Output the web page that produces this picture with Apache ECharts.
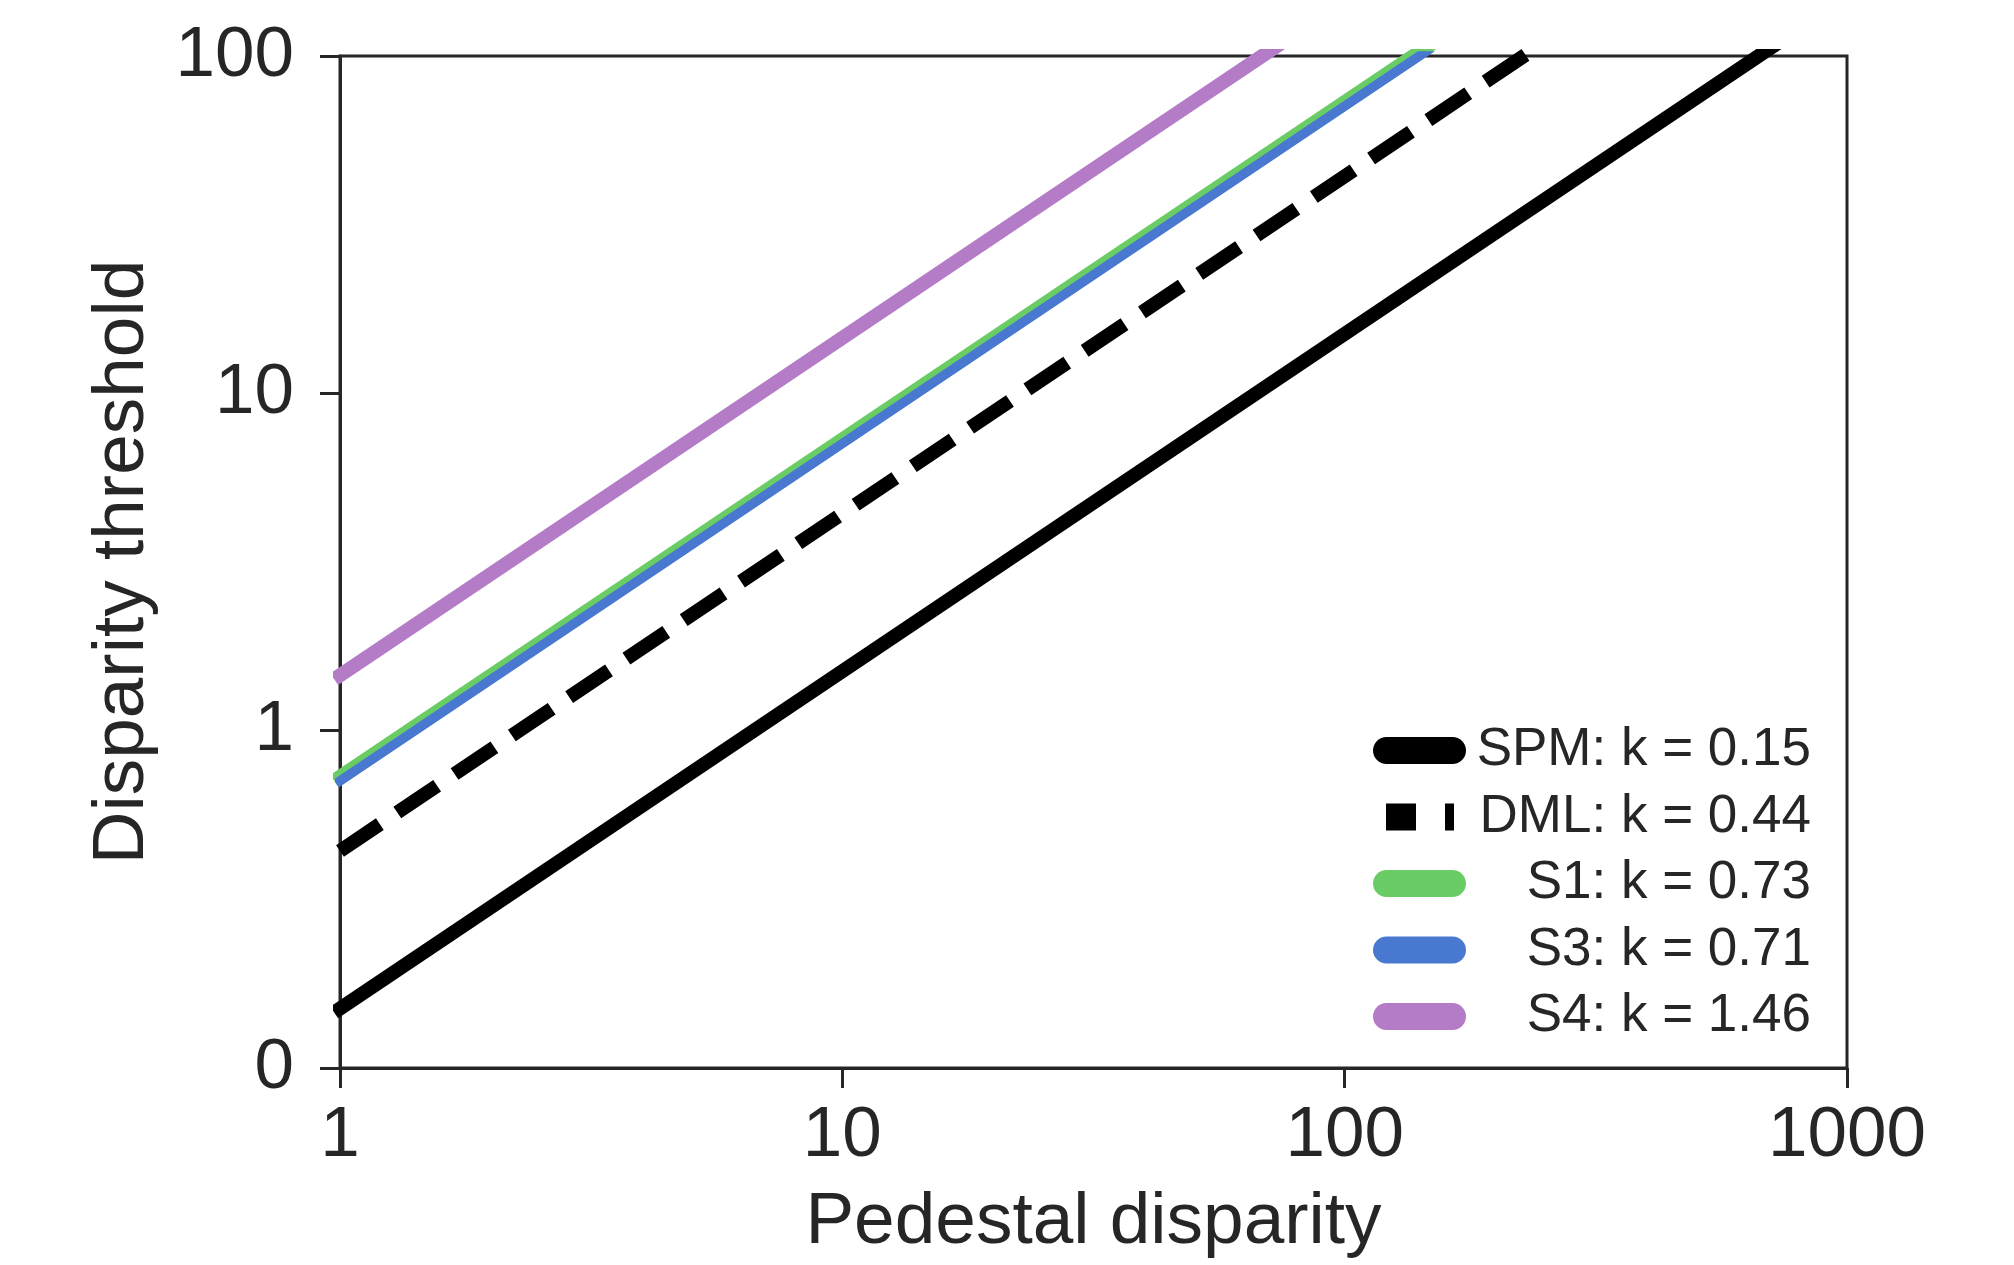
<!DOCTYPE html>
<html>
<head>
<meta charset="utf-8">
<script src="https://cdn.jsdelivr.net/npm/echarts@6/dist/echarts.min.js"></script>
<style>
  html, body { margin: 0; padding: 0; background: #fff; }
  #chart { width: 2014px; height: 1265px; }
</style>
</head>
<body>
<div id="chart"></div>
<script>
// ejes log-log: umbral de disparidad = k * disparidad pedestal
const pedestal = [1, 1000];
const spm = [0.15, 150];
const dml = [0.44, 440];
const s1 = [0.73, 730];
const s3 = [0.71, 710];
const s4 = [1.46, 1460];

const nombres = ['SPM: k = 0.15', 'DML: k = 0.44', 'S1: k = 0.73', 'S3: k = 0.71', 'S4: k = 1.46'];
const xTicks = [1, 10, 100, 1000];
const xTickLabels = ['1', '10', '100', '1000'];
const yTicks = [0.1, 1, 10, 100];
const yTickLabels = ['0', '1', '10', '100'];

const TINTA = '#262626';
const FUENTE = 'Liberation Sans';
const NEGRO = '#000000', VERDE = '#6acc64', AZUL = '#4878d0', MORADO = '#b47cc7';

// iconos de leyenda: 93 x 27
const PILDORA = 'path://M13.5,0H79.5A13.5,13.5,0,0,1,79.5,27H13.5A13.5,13.5,0,0,1,13.5,0Z';
const RAYAS = 'path://M0,0M13,0H43V27H13ZM72,0H81V27H72ZM93,27';

function puntos(ys) {
  return pedestal.map((x, i) => [x, ys[i]]);
}

// etiqueta del tick más cercano en escala log
function etiqueta(ticks, textos) {
  return function (v) {
    let mejor = 0;
    ticks.forEach((t, i) => {
      if (Math.abs(Math.log10(t) - Math.log10(v)) < Math.abs(Math.log10(ticks[mejor]) - Math.log10(v))) mejor = i;
    });
    return textos[mejor];
  };
}

function linea(nombre, ys, color, discontinua, grosor) {
  return {
    type: 'line', name: nombre, data: puntos(ys),
    showSymbol: false, symbol: 'none', silent: true, animation: false,
    itemStyle: { color: color },
    lineStyle: { color: color, width: grosor || 14,
                 type: discontinua ? [48, 21] : 'solid',
                 cap: discontinua ? 'butt' : 'square' }
  };
}

const chart = echarts.init(document.getElementById('chart'), null, { renderer: 'canvas' });

const eje = {
  axisLine: { show: true, lineStyle: { color: TINTA, width: 3 } },
  axisTick: { show: true, length: 20, lineStyle: { color: TINTA, width: 3 } },
  splitLine: { show: false },
  minorTick: { show: false }
};

chart.setOption({
  backgroundColor: '#ffffff',
  animation: false,
  grid: { left: 340, right: 167, top: 56, bottom: 197,
          show: true, borderColor: TINTA, borderWidth: 3, backgroundColor: 'transparent' },
  xAxis: Object.assign({
    type: 'log', logBase: 10, min: 1, max: 1000,
    name: 'Pedestal disparity', nameLocation: 'middle', nameGap: 118,
    nameTextStyle: { color: TINTA, fontSize: 73, fontFamily: FUENTE },
    axisLabel: { color: TINTA, fontSize: 71, fontFamily: FUENTE, margin: 33,
                 formatter: etiqueta(xTicks, xTickLabels) }
  }, eje),
  yAxis: Object.assign({
    type: 'log', logBase: 10, min: 0.1, max: 100,
    name: 'Disparity threshold', nameLocation: 'middle', nameGap: 181,
    nameTextStyle: { color: TINTA, fontSize: 73, fontFamily: FUENTE },
    axisLabel: { color: TINTA, fontSize: 71, fontFamily: FUENTE, margin: 46,
                 formatter: etiqueta(yTicks, yTickLabels) }
  }, eje),
  legend: {
    orient: 'vertical', left: 1368, top: 719,
    itemWidth: 93, itemHeight: 27, itemGap: 13.5, itemTextGap: 8,
    selectedMode: false,
    data: [
      { name: nombres[0], icon: PILDORA, itemStyle: { color: NEGRO, borderWidth: 0 } },
      { name: nombres[1], icon: RAYAS, itemStyle: { color: NEGRO, borderWidth: 0 } },
      { name: nombres[2], icon: PILDORA, itemStyle: { color: VERDE, borderWidth: 0 } },
      { name: nombres[3], icon: PILDORA, itemStyle: { color: AZUL, borderWidth: 0 } },
      { name: nombres[4], icon: PILDORA, itemStyle: { color: MORADO, borderWidth: 0 } }
    ],
    formatter: function (n) { return '{r|' + n + '}'; },
    textStyle: {
      color: TINTA, fontSize: 53, fontFamily: FUENTE,
      rich: { r: { width: 340, align: 'right', fontSize: 53, fontFamily: FUENTE, color: TINTA, height: 53 } }
    }
  },
  series: [
    linea(nombres[0], spm, NEGRO, false),
    linea(nombres[1], dml, NEGRO, true),
    linea(nombres[2], s1, VERDE, false),
    linea(nombres[3], s3, AZUL, false, 9.5),
    linea(nombres[4], s4, MORADO, false)
  ]
});
</script>
</body>
</html>
